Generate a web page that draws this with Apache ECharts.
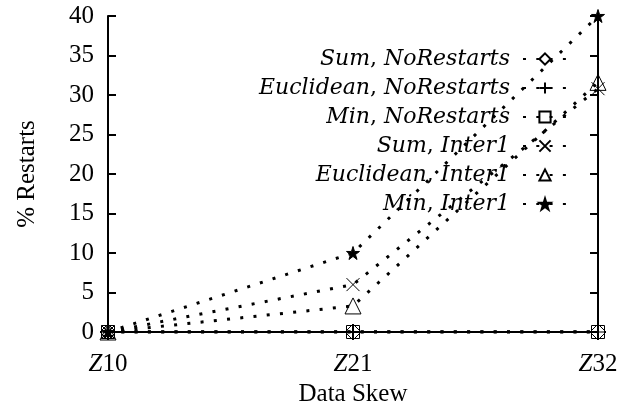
<!DOCTYPE html>
<html><head><meta charset="utf-8">
<script src="https://cdn.jsdelivr.net/npm/echarts@6/dist/echarts.min.js"></script>
<style>html,body{margin:0;padding:0;background:#fff}#c{width:634px;height:406px}</style>
</head><body><div id="c"></div>
<script>
var categories = ['Z10', 'Z21', 'Z32'];
var yTicks = [0, 5, 10, 15, 20, 25, 30, 35, 40];
var sumNoRestarts = [0, 0, 0];
var euclideanNoRestarts = [0, 0, 0];
var minNoRestarts = [0, 0, 0];
var sumInter1 = [0, 6, 30.8];
var euclideanInter1 = [0, 3.3, 31.6];
var minInter1 = [0, 10, 40];
var seriesNames = ['Sum, NoRestarts', 'Euclidean, NoRestarts', 'Min, NoRestarts', 'Sum, Inter1', 'Euclidean, Inter1', 'Min, Inter1'];

var FONT = 'Liberation Serif';
var LFONT = 'DejaVu Serif';
var PLUS = 'path://M0,-1L0,1M-1,0L1,0';
var CROSS = 'path://M-1,-1L1,1M-1,1L1,-1';
var STAR = 'path://M0,-1L0.2245,-0.309L0.951,-0.309L0.363,0.118L0.588,0.809L0,0.382L-0.588,0.809L-0.363,0.118L-0.951,-0.309L-0.2245,-0.309Z';

function mk(name, data, symbol, size, filled) {
  return {
    name: name, type: 'line', data: data,
    symbol: symbol, symbolSize: size, showAllSymbol: true,
    lineStyle: { color: '#000', width: 3, type: [3, 10.3], cap: 'butt' },
    itemStyle: { color: filled ? '#000' : 'rgba(0,0,0,0)', borderColor: '#000', borderWidth: 1 },
    emphasis: { disabled: true },
    animation: false, z: 3
  };
}

var chart = echarts.init(document.getElementById('c'));
chart.setOption({
  animation: false,
  grid: { left: 108, right: 36, top: 16, bottom: 74, outerBoundsMode: 'none', containLabel: false },
  legend: {
    orient: 'vertical', align: 'right', right: 66, top: 48, padding: 0,
    itemWidth: 44, itemHeight: 14, itemGap: 7,
    data: seriesNames,
    formatter: function (n) {
      var p = n.split(', ');
      return '{i|' + p[0] + '}, {i|' + p[1] + '}';
    },
    textStyle: {
      fontFamily: LFONT, fontSize: 22, color: '#000', lineHeight: 20, padding: [0, 8, 0, 0],
      rich: { i: { fontFamily: LFONT, fontSize: 22, fontStyle: 'italic', color: '#000', lineHeight: 20 } }
    },
    selectedMode: false
  },
  xAxis: [{
    type: 'category', data: categories, boundaryGap: false,
    axisLine: { lineStyle: { color: '#000', width: 2 } },
    axisTick: { inside: true, length: 8, lineStyle: { color: '#000', width: 2 } },
    axisLabel: {
      margin: 20, color: '#000', fontFamily: FONT, fontSize: 25,
      formatter: function (v) { return '{i|Z}{n|' + v.slice(1) + '}'; },
      rich: {
        i: { fontFamily: FONT, fontSize: 25, fontStyle: 'italic', color: '#000' },
        n: { fontFamily: FONT, fontSize: 25, color: '#000' }
      }
    },
    name: 'Data Skew', nameLocation: 'middle', nameGap: 48,
    nameTextStyle: { fontFamily: FONT, fontSize: 25, color: '#000' }
  }, {
    type: 'category', data: categories, boundaryGap: false, position: 'top',
    axisLine: { lineStyle: { color: '#000', width: 2 } },
    axisTick: { inside: true, length: 8, lineStyle: { color: '#000', width: 2 } },
    axisLabel: { show: false }
  }],
  yAxis: [{
    type: 'value', min: 0, max: 40, interval: 5,
    axisLine: { show: true, lineStyle: { color: '#000', width: 2 } },
    axisTick: { show: true, inside: true, length: 8, lineStyle: { color: '#000', width: 2 } },
    splitLine: { show: false },
    axisLabel: { margin: 14, color: '#000', fontFamily: FONT, fontSize: 25 },
    name: '% Restarts', nameLocation: 'middle', nameGap: 68, nameRotate: 90,
    nameTextStyle: { fontFamily: FONT, fontSize: 25, color: '#000' }
  }, {
    type: 'value', min: 0, max: 40, interval: 5, position: 'right',
    axisLine: { show: true, lineStyle: { color: '#000', width: 2 } },
    axisTick: { show: true, inside: true, length: 8, lineStyle: { color: '#000', width: 2 } },
    splitLine: { show: false }, axisLabel: { show: false }
  }],
  series: [
    mk(seriesNames[0], sumNoRestarts, 'diamond', 16, false),
    mk(seriesNames[1], euclideanNoRestarts, PLUS, 14, false),
    mk(seriesNames[2], minNoRestarts, 'rect', 13, false),
    mk(seriesNames[3], sumInter1, CROSS, 13, false),
    mk(seriesNames[4], euclideanInter1, 'triangle', 16, false),
    mk(seriesNames[5], minInter1, STAR, 13, true)
  ]
});
</script></body></html>
